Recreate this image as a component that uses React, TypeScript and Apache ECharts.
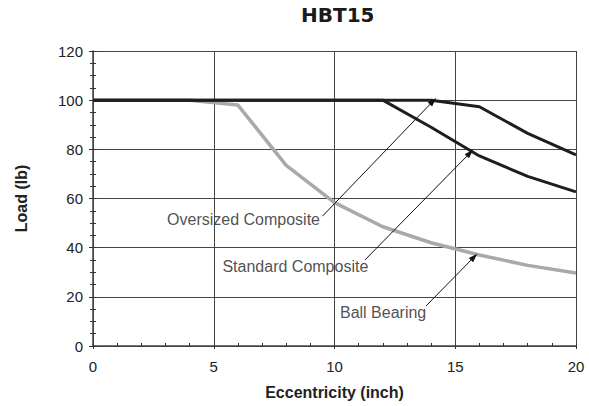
import React, { useEffect, useRef } from "react";
import * as echarts from "echarts";

const title = "HBT15";
const xName = "Eccentricity (inch)";
const yName = "Load (lb)";
const xValues = [0, 2, 4, 6, 8, 10, 12, 14, 16, 18, 20];
const oversized = [100, 100, 100, 100, 100, 100, 100, 100, 97.3, 86.5, 77.7];
const standard = [100, 100, 100, 100, 100, 100, 100, 89, 77.3, 69, 62.7];
const ballBearing = [100, 100, 100, 98, 73.5, 58.3, 48.5, 42, 37, 32.8, 29.7];

const labelTexts = ["Oversized Composite", "Standard Composite", "Ball Bearing"];
const labelPos = [[9.4, 51.3], [11.4, 32.2], [13.8, 13.7]];
const arrowStart = [[9.5, 52.8], [11.26, 35], [13.79, 16.3]];
const arrowEnd = [[14.08, 99.6], [15.61, 78.5], [15.78, 36.2]];

const FONT = "Liberation Sans";

export default function App() {
  const ref = useRef<HTMLDivElement>(null);
  useEffect(() => {
    document.body.style.margin = "0";
    const chart = echarts.init(ref.current!, null, { renderer: "svg" });
    const pair = (ys: number[]) => xValues.map((x, i) => [x, ys[i]]);
    const baseX = { type: "value", min: 0, max: 20, interval: 5 };
    const baseY = { type: "value", min: 0, max: 120, interval: 20 };
    chart.setOption({
      animation: false,
      backgroundColor: "#fff",
      textStyle: { fontFamily: FONT },
      title: {
        text: title,
        left: 301,
        top: 5,
        padding: 0,
        textStyle: { fontFamily: "DejaVu Sans", fontWeight: 900, fontSize: 20, color: "#1a1a1a" },
      },
      grid: { left: 93, right: 13, top: 51, bottom: 60, containLabel: false },
      xAxis: [
        {
          ...baseX,
          name: xName,
          nameLocation: "middle",
          nameGap: 38,
          nameTextStyle: { fontFamily: FONT, fontWeight: "bold", fontSize: 16, color: "#222" },
          axisLine: { show: true, onZero: false, lineStyle: { color: "#444", width: 1.5 } },
          axisTick: { show: true, inside: false, length: 3, lineStyle: { color: "#333" } },
          axisLabel: { margin: 13, fontSize: 15, color: "#222", fontFamily: FONT },
          splitLine: { show: true, lineStyle: { color: "#444", width: 1 } },
        },
        {
          ...baseX,
          position: "bottom",
          axisLine: { show: false },
          axisTick: { show: true, inside: true, length: 3, lineStyle: { color: "#333" } },
          minorTick: { show: true, splitNumber: 5, length: 3, lineStyle: { color: "#333" } },
          axisLabel: { show: false },
          splitLine: { show: false },
        },
      ],
      yAxis: [
        {
          ...baseY,
          name: yName,
          nameLocation: "middle",
          nameGap: 64,
          nameTextStyle: { fontFamily: FONT, fontWeight: "bold", fontSize: 16, color: "#222" },
          axisLine: { show: true, onZero: false, lineStyle: { color: "#444", width: 1.5 } },
          axisTick: { show: true, inside: false, length: 4, lineStyle: { color: "#333" } },
          minorTick: { show: true, splitNumber: 4, length: 3, lineStyle: { color: "#333" } },
          axisLabel: { margin: 10, fontSize: 15, color: "#222", fontFamily: FONT },
          splitLine: { show: true, lineStyle: { color: "#444", width: 1 } },
        },
        {
          ...baseY,
          position: "left",
          axisLine: { show: false },
          axisTick: { show: true, inside: true, length: 4, lineStyle: { color: "#333" } },
          minorTick: { show: true, splitNumber: 4, length: 3, lineStyle: { color: "#333" } },
          axisLabel: { show: false },
          splitLine: { show: false },
        },
      ],
      series: [
        {
          type: "line",
          name: "Ball Bearing",
          data: pair(ballBearing),
          showSymbol: false,
          lineStyle: { color: "#a9a9a9", width: 3.5 },
          z: 2,
        },
        {
          type: "line",
          name: "Standard Composite",
          data: pair(standard),
          showSymbol: false,
          lineStyle: { color: "#1e1e1e", width: 3 },
          z: 3,
        },
        {
          type: "line",
          name: "Oversized Composite",
          data: pair(oversized),
          showSymbol: false,
          lineStyle: { color: "#1e1e1e", width: 3 },
          z: 3,
          markLine: {
            silent: true,
            symbol: ["none", "triangle"],
            symbolSize: [6, 9],
            label: { show: false },
            lineStyle: { color: "#111", width: 1, type: "solid" },
            data: arrowStart.map((s, i) => [{ coord: s }, { coord: arrowEnd[i] }]),
          },
        },
        {
          type: "scatter",
          name: "labels",
          silent: true,
          symbolSize: 0,
          data: labelTexts.map((t, i) => ({ name: t, value: labelPos[i] })),
          label: {
            show: true,
            position: "left",
            distance: 0,
            formatter: "{b}",
            fontFamily: FONT,
            fontSize: 16,
            color: "#222",
          },
          z: 5,
        },
      ],
    });
    return () => chart.dispose();
  }, []);
  return <div ref={ref} style={{ position: "fixed", left: 0, top: 0, width: 589, height: 406 }} />;
}
